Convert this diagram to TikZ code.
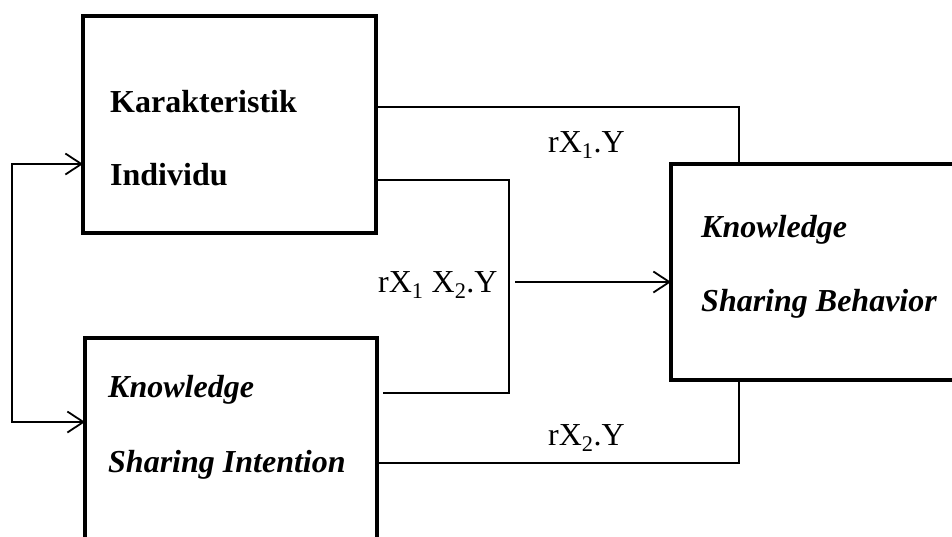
\documentclass[tikz,border=0pt]{standalone}
\usepackage{fontspec}
\setmainfont{Liberation Serif}
\usetikzlibrary{arrows.meta, positioning, calc}

\begin{document}
\begin{tikzpicture}[x=1pt, y=-1pt, >={Straight Barb[length=16pt,width=21pt]},
  box/.style={draw, rectangle, line width=3.8pt, inner sep=0pt, outer sep=0pt},
  link/.style={line width=1.8pt},
  txt/.style={anchor=base west, inner sep=0pt, font=\fontsize{32}{38}\selectfont}]
\useasboundingbox (0,0) rectangle (952,536);
\clip (0,0) rectangle (952,536);
\node [box, minimum width=293pt, minimum height=217pt] (ki) at (229.5,124.5) {};
\node [box, minimum width=292pt, minimum height=282pt] (ksi) at (231,479) {};
\node [box, minimum width=339pt, minimum height=216pt] (ksb) at (840.5,272) {};
\node [txt, font=\fontsize{32}{38}\selectfont\bfseries] (kiA) at ($(ki.north west)+(27,96)$) {Karakteristik};
\node [txt, font=\fontsize{32}{38}\selectfont\bfseries] (kiB) at ($(ki.north west)+(27,169)$) {Individu};
\node [txt, font=\fontsize{32}{38}\selectfont\bfseries\itshape] (ksiA) at ($(ksi.north west)+(23,59)$) {Knowledge};
\node [txt, font=\fontsize{32}{38}\selectfont\bfseries\itshape] (ksiB) at ($(ksi.north west)+(23,134)$) {Sharing Intention};
\node [txt, font=\fontsize{32}{38}\selectfont\bfseries\itshape] (ksbA) at ($(ksb.north west)+(30,73)$) {Knowledge};
\node [txt, font=\fontsize{32}{38}\selectfont\bfseries\itshape] (ksbB) at ($(ksb.north west)+(30,147)$) {Sharing Behavior};
\coordinate (mid) at (509,282);
\coordinate (loop) at (12,300);
% paths
\draw [link] ($(ki.north east)+(0,91)$) -| ($(ksb.north west)+(68,0)$);
\draw [link] ($(ki.north east)+(0,164)$) -| (mid) |- ($(ksi.north east)+(6,55)$);
\draw [link, ->] ($(mid)+(6,0)$) -- ($(ksb.north west)+(0,118)$);
\draw [link] ($(ksi.north east)+(0,125)$) -| ($(ksb.south west)+(68,0)$);
\draw [link, <->] ($(ki.north west)+(0,148)$) -| (loop) |- ($(ksi.north west)+(0,84)$);
\node [txt] (r1) at (548,152) {rX\textsubscript{1}.Y};
\node [txt] (r12) at (378,292) {rX\textsubscript{1} X\textsubscript{2}.Y};
\node [txt] (r2) at (548,445) {rX\textsubscript{2}.Y};
\end{tikzpicture}
\end{document}
